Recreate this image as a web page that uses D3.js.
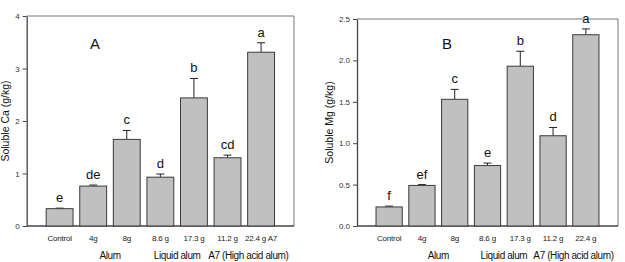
<!DOCTYPE html>
<meta charset="utf-8">
<style>
    body { margin: 0; background: #fff; }
    svg { font-family: "Liberation Sans", Arial, sans-serif; }
    .tick text { font-size: 8px; fill: #333; }
    .axis path { stroke: #444; stroke-width: 1.3px; }
    .axis line { stroke: #444; }
    .bar { fill: #c0c0c0; stroke: #3a3a3a; stroke-width: 1px; }
    .err { stroke: #222; stroke-width: 1px; fill: none; }
    .letter { font-size: 13px; fill: #111; text-anchor: middle; }
    .xlab { font-size: 8px; fill: #222; text-anchor: middle; letter-spacing: -0.2px; }
    .grp { font-size: 10px; fill: #111; text-anchor: middle; letter-spacing: -0.4px; }
    .ytitle { font-size: 10.5px; fill: #111; text-anchor: middle; }
    .panel { font-size: 15px; fill: #111; text-anchor: middle; }
</style>
<body>
<svg width="625" height="262"></svg>

<script src="https://d3js.org/d3.v7.min.js"></script>
<script>

    // treatments
    var catsA = ['Control', '4g', '8g', '8.6 g', '17.3 g', '11.2 g', '22.4 g A7'];
    var catsB = ['Control', '4g', '8g', '8.6 g', '17.3 g', '11.2 g', '22.4 g'];
    var groups = ['Alum', 'Liquid alum', 'A7 (High acid alum)'];

    // soluble Ca (g/kg)
    var caMean = [0.33, 0.76, 1.65, 0.93, 2.44, 1.30, 3.31];
    var caErr  = [0.01, 0.02, 0.17, 0.06, 0.37, 0.05, 0.18];
    var caLetters = ['e', 'de', 'c', 'd', 'b', 'cd', 'a'];
    var caTicks = [0, 1, 2, 3, 4];

    // soluble Mg (g/kg)
    var mgMean = [0.23, 0.49, 1.53, 0.73, 1.93, 1.09, 2.31];
    var mgErr  = [0.01, 0.01, 0.12, 0.03, 0.18, 0.10, 0.07];
    var mgLetters = ['f', 'ef', 'c', 'e', 'b', 'd', 'a'];
    var mgTicks = [0, 0.5, 1.0, 1.5, 2.0, 2.5];

    var svg = d3.select('svg');

    function panel(opt) {
        var g = svg.append('g');
        var x = d3.scaleBand().domain(d3.range(opt.mean.length))
            .range([opt.left, opt.right]).paddingInner(0.2).paddingOuter(0.58);
        var y = d3.scaleLinear().domain([0, opt.ymax]).range([opt.bottom, opt.top]);

        // top and right frame
        g.append('path')
            .attr('d', 'M' + opt.left + ',' + opt.top + 'H' + opt.right + 'V' + opt.bottom)
            .attr('fill', 'none').attr('stroke', '#777').attr('stroke-width', 1);

        g.append('g').attr('class', 'axis')
            .attr('transform', 'translate(' + opt.left + ',0)')
            .call(d3.axisLeft(y).tickValues(opt.ticks).tickSize(4).tickSizeOuter(0).tickFormat(opt.fmt));

        g.append('line')
            .attr('x1', opt.left).attr('x2', opt.right)
            .attr('y1', opt.bottom).attr('y2', opt.bottom)
            .attr('stroke', '#444').attr('stroke-width', 1.3);

        var idx = d3.range(opt.mean.length);

        g.selectAll('.err').data(idx).enter().append('path')
            .attr('class', 'err')
            .attr('d', function(i) {
                var cx = x(i) + x.bandwidth() / 2;
                var y0 = y(opt.mean[i]), y1 = y(opt.mean[i] + opt.err[i]);
                return 'M' + cx + ',' + y0 + 'V' + y1 + 'M' + (cx - 4) + ',' + y1 + 'H' + (cx + 4);
            });

        g.selectAll('.bar').data(idx).enter().append('rect')
            .attr('class', 'bar')
            .attr('x', function(i) { return x(i); })
            .attr('y', function(i) { return y(opt.mean[i]); })
            .attr('width', x.bandwidth())
            .attr('height', function(i) { return opt.bottom - y(opt.mean[i]); });

        g.selectAll('.letter').data(idx).enter().append('text')
            .attr('class', 'letter')
            .attr('x', function(i) { return x(i) + x.bandwidth() / 2; })
            .attr('y', function(i) { return y(opt.mean[i] + opt.err[i]) - 6; })
            .text(function(i) { return opt.letters[i]; });

        g.selectAll('.xlab').data(idx).enter().append('text')
            .attr('class', 'xlab')
            .attr('x', function(i) { return x(i) + x.bandwidth() / 2; })
            .attr('y', 241)
            .text(function(i) { return opt.cats[i]; });

        // group labels sit between each pair of bars
        groups.forEach(function(name, k) {
            var a = 1 + 2 * k;
            var cx = (x(a) + x(a + 1)) / 2 + x.bandwidth() / 2 + (k == 2 ? 4 : 0);
            g.append('text').attr('class', 'grp')
                .attr('x', cx).attr('y', 259).text(name);
        });

        g.append('text').attr('class', 'ytitle')
            .attr('transform', 'translate(' + opt.titleX + ',' + ((opt.top + opt.bottom) / 2) + ')rotate(-90)')
            .text(opt.title);

        g.append('text').attr('class', 'panel')
            .attr('x', opt.labelX).attr('y', 49).text(opt.label);
    }

    panel({
        mean: caMean, err: caErr, letters: caLetters, cats: catsA, ticks: caTicks,
        fmt: d3.format('d'), ymax: 4,
        left: 26.7, right: 294, top: 16, bottom: 226,
        title: 'Soluble Ca (g/kg)', titleX: 9, label: 'A', labelX: 95
    });

    panel({
        mean: mgMean, err: mgErr, letters: mgLetters, cats: catsB, ticks: mgTicks,
        fmt: d3.format('.1f'), ymax: 2.5,
        left: 357, right: 618, top: 19, bottom: 226,
        title: 'Soluble Mg (g/kg)', titleX: 333, label: 'B', labelX: 447
    });

</script>
